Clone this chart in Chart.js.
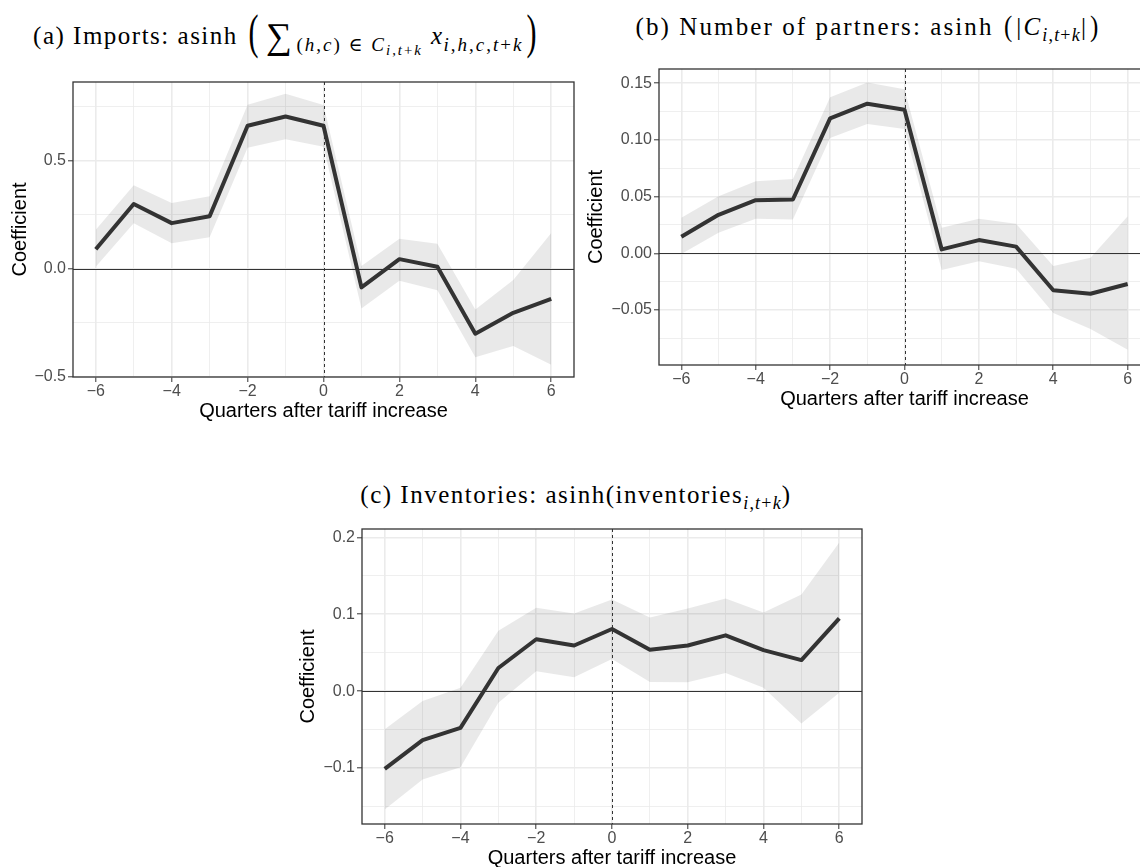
<!DOCTYPE html>
<html>
<head>
<meta charset="utf-8">
<script src="https://cdn.jsdelivr.net/npm/chart.js@4/dist/chart.umd.min.js"></script>
<style>
  html, body { margin: 0; padding: 0; background: #fff; }
  body { width: 1140px; height: 867px; overflow: hidden; position: relative; }
  canvas { position: absolute; }
  .ttl {
    position: absolute; white-space: nowrap; color: #000;
    font-family: "Liberation Serif", "DejaVu Serif", serif;
    font-size: 25px; line-height: 1; letter-spacing: 1.5px; transform: translateX(-50%);
  }
  .ttl i { font-style: italic; }
  .sb  { font-size: 0.72em; position: relative; top: 0.35em; letter-spacing: 1.2px; }
  .sb2 { font-size: 0.78em; position: relative; top: 0.3em; }
  .wide .sb { font-size: 0.76em; letter-spacing: 2px; }
  .sum { font-size: 1.45em; position: relative; top: 0.1em; margin: 0 3px 0 3px; }
  .bigp { display: inline-block; transform: scaleY(1.6); font-size: 1.2em; position: relative; top: -0.06em; margin: 0 3px; }
  .midp { display: inline-block; transform: scaleY(1.15); margin: 0 2px; }
  .mx { margin-left: 8px; }
  .tb { letter-spacing: 2.1px; }
</style>
</head>
<body>

<div class="ttl wide" style="left:287px; top:14px;">(a) Imports: asinh <span class="bigp">(</span><span class="sum">∑</span><span class="sb">(<i>h</i>,<i>c</i>) ∈ <i>C</i><span class="sb2"><i>i</i>,<i>t</i>+<i>k</i></span></span><i class="mx">x</i><span class="sb"><i>i</i>,<i>h</i>,<i>c</i>,<i>t</i>+<i>k</i></span><span class="bigp">)</span></div>
<div class="ttl tb" style="left:869px; top:14px;">(b) Number of partners: asinh <span class="midp">(</span>|<i>C</i><span class="sb"><i>i</i>,<i>t</i>+<i>k</i></span>|<span class="midp">)</span></div>
<div class="ttl" style="left:576px; top:482px;">(c) Inventories: asinh(inventories<span class="sb"><i>i</i>,<i>t</i>+<i>k</i></span>)</div>

<canvas id="imports" width="590" height="365" style="left:0px; top:62px;"></canvas>
<canvas id="partners" width="586" height="366" style="left:574px; top:49px;"></canvas>
<canvas id="inventories" width="583" height="365" style="left:289px; top:509px;"></canvas>

<script>
// Event-study estimates by quarter relative to the tariff increase, with confidence bands
const quarters = [-6, -5, -4, -3, -2, -1, 0, 1, 2, 3, 4, 5, 6];

const importsCoef  = [0.090, 0.300, 0.211, 0.243, 0.663, 0.706, 0.663, -0.087, 0.044, 0.009, -0.302, -0.205, -0.140];
const importsUpper = [0.180, 0.387, 0.305, 0.336, 0.760, 0.812, 0.759, 0.012, 0.138, 0.115, -0.190, -0.053, 0.165];
const importsLower = [0.009, 0.211, 0.118, 0.146, 0.561, 0.600, 0.566, -0.185, -0.056, -0.100, -0.411, -0.359, -0.446];

const partnersCoef  = [0.0147, 0.0340, 0.0469, 0.0475, 0.1190, 0.1320, 0.1266, 0.0035, 0.0117, 0.0059, -0.0325, -0.0357, -0.0270];
const partnersUpper = [0.0313, 0.0504, 0.0636, 0.0656, 0.1377, 0.1506, 0.1447, 0.0226, 0.0305, 0.0261, -0.0111, -0.0038, 0.0328];
const partnersLower = [-0.0005, 0.0182, 0.0305, 0.0299, 0.1017, 0.1140, 0.1096, -0.0146, -0.0070, -0.0135, -0.0527, -0.0668, -0.0850];

const inventoriesCoef  = [-0.101, -0.0636, -0.0477, 0.0301, 0.0675, 0.0593, 0.0808, 0.0537, 0.0593, 0.0726, 0.0533, 0.0404, 0.0945];
const inventoriesUpper = [-0.0494, -0.0129, 0.0043, 0.0786, 0.1083, 0.1010, 0.1190, 0.0958, 0.1074, 0.1203, 0.1023, 0.1255, 0.1934];
const inventoriesLower = [-0.1540, -0.1147, -0.0988, -0.0150, 0.0258, 0.0180, 0.0417, 0.0120, 0.0116, 0.0236, 0.0043, -0.0421, -0.0020];

// Axis breaks and their labels
const xTicks = [-6, -4, -2, 0, 2, 4, 6];
const xTickLabels = ['−6', '−4', '−2', '0', '2', '4', '6'];
const importsYTicks = [-0.5, 0, 0.5];
const importsYLabels = ['−0.5', '0.0', '0.5'];
const partnersYTicks = [-0.05, 0, 0.05, 0.10, 0.15];
const partnersYLabels = ['−0.05', '0.00', '0.05', '0.10', '0.15'];
const inventoriesYTicks = [-0.1, 0, 0.1, 0.2];
const inventoriesYLabels = ['−0.1', '0.0', '0.1', '0.2'];

// Axis limits
const xLimits = [-6.6, 6.6];
const importsLimits = [-0.503, 0.866];
const partnersLimits = [-0.0985, 0.1626];
const inventoriesLimits = [-0.1727, 0.2108];

// Reference lines: no effect, and the quarter of the tariff increase
const referenceCoef = 0;
const referenceQuarter = 0;

const SANS = '"Liberation Sans", Arial, Helvetica, sans-serif';
const TICK_FONT = { family: SANS, size: 16 };
const TITLE_FONT = { family: SANS, size: 20 };

function near(a, b) { return Math.abs(a - b) < 1e-9; }
function isMajor(v, majors) { return majors.some(m => near(m, v)); }

// Major breaks plus minor breaks halfway between them (and half a step past each end)
function withMinor(majors, lo, hi) {
  const step = majors[1] - majors[0];
  const mids = [majors[0] - step / 2];
  for (let i = 0; i < majors.length - 1; i++) mids.push((majors[i] + majors[i + 1]) / 2);
  mids.push(majors[majors.length - 1] + step / 2);
  return majors.concat(mids)
    .filter(v => v >= lo - 1e-9 && v <= hi + 1e-9)
    .sort((a, b) => a - b);
}

function points(values) {
  return quarters.map((q, i) => ({ x: q, y: values[i] }));
}

// Reference lines under the estimate line, and the panel border on top
const panelDecor = {
  id: 'panelDecor',
  beforeDatasetDraw(chart, args) {
    if (args.index !== 0) return;
    const { ctx, chartArea: a, scales: { x, y } } = chart;
    ctx.save();
    ctx.strokeStyle = '#333333';
    ctx.lineWidth = 1;
    const y0 = Math.round(y.getPixelForValue(referenceCoef)) + 0.5;
    ctx.beginPath(); ctx.moveTo(a.left, y0); ctx.lineTo(a.right, y0); ctx.stroke();
    const x0 = Math.round(x.getPixelForValue(referenceQuarter)) + 0.5;
    ctx.setLineDash([3, 3]);
    ctx.beginPath(); ctx.moveTo(x0, a.top); ctx.lineTo(x0, a.bottom); ctx.stroke();
    ctx.restore();
  },
  afterDatasetsDraw(chart) {
    const { ctx, chartArea: a } = chart;
    ctx.save();
    ctx.strokeStyle = '#333333';
    ctx.lineWidth = 1.3;
    ctx.strokeRect(a.left, a.top, a.right - a.left, a.bottom - a.top);
    ctx.restore();
  }
};

function gridFor(majors) {
  return {
    color: '#EBEBEB',
    lineWidth: c => (c.tick && isMajor(c.tick.value, majors)) ? 1.6 : 0.8,
    tickColor: c => (c.tick && isMajor(c.tick.value, majors)) ? '#333333' : 'rgba(0,0,0,0)',
    tickLength: 5,
    tickWidth: 1
  };
}

function makePanel(id, cfg) {
  const ctx = document.getElementById(id);
  return new Chart(ctx, {
    type: 'line',
    data: {
      datasets: [
        { label: 'Coefficient', data: points(cfg.coef), borderColor: '#333333', borderWidth: 4,
          borderJoinStyle: 'round', pointRadius: 0, fill: false, tension: 0, order: 0 },
        { label: 'Lower bound', data: points(cfg.lower), borderColor: 'rgba(0,0,0,0)', borderWidth: 0,
          pointRadius: 0, fill: false, tension: 0, order: 2 },
        { label: 'Upper bound', data: points(cfg.upper), borderColor: 'rgba(0,0,0,0)', borderWidth: 0,
          pointRadius: 0, fill: '-1', backgroundColor: 'rgba(0,0,0,0.085)', tension: 0, order: 1 }
      ]
    },
    options: {
      responsive: false,
      animation: false,
      devicePixelRatio: 1,
      events: [],
      layout: { padding: { top: 20, right: cfg.padRight, left: 0, bottom: 0 } },
      plugins: { legend: { display: false }, tooltip: { enabled: false } },
      scales: {
        x: {
          type: 'linear', min: xLimits[0], max: xLimits[1],
          afterBuildTicks(scale) { scale.ticks = withMinor(xTicks, scale.min, scale.max).map(v => ({ value: v })); },
          afterFit(scale) { scale.height = 50; },
          ticks: {
            autoSkip: false, maxRotation: 0, padding: 0, color: '#4D4D4D', font: TICK_FONT,
            callback(v) { const i = xTicks.findIndex(t => near(t, v)); return i < 0 ? '' : xTickLabels[i]; }
          },
          grid: gridFor(xTicks),
          border: { display: false },
          title: { display: true, text: 'Quarters after tariff increase', color: '#000', font: TITLE_FONT,
                   padding: { top: 0, bottom: 4 } }
        },
        y: {
          type: 'linear', min: cfg.limits[0], max: cfg.limits[1],
          afterBuildTicks(scale) { scale.ticks = withMinor(cfg.yTicks, scale.min, scale.max).map(v => ({ value: v })); },
          afterFit(scale) { scale.width = cfg.yWidth; },
          ticks: {
            autoSkip: false, padding: 2, color: '#4D4D4D', font: TICK_FONT,
            callback(v) { const i = cfg.yTicks.findIndex(t => near(t, v)); return i < 0 ? '' : cfg.yLabels[i]; }
          },
          grid: gridFor(cfg.yTicks),
          border: { display: false },
          title: { display: true, text: 'Coefficient', color: '#000', font: TITLE_FONT,
                   padding: { top: cfg.titlePad, bottom: 0 } }
        }
      }
    },
    plugins: [panelDecor]
  });
}

makePanel('imports', {
  coef: importsCoef, upper: importsUpper, lower: importsLower,
  yTicks: importsYTicks, yLabels: importsYLabels, limits: importsLimits,
  yWidth: 73, padRight: 16, titlePad: 8
});
makePanel('partners', {
  coef: partnersCoef, upper: partnersUpper, lower: partnersLower,
  yTicks: partnersYTicks, yLabels: partnersYLabels, limits: partnersLimits,
  yWidth: 85, padRight: 10, titlePad: 10
});
makePanel('inventories', {
  coef: inventoriesCoef, upper: inventoriesUpper, lower: inventoriesLower,
  yTicks: inventoriesYTicks, yLabels: inventoriesYLabels, limits: inventoriesLimits,
  yWidth: 73, padRight: 10, titlePad: 7.6
});
</script>
</body>
</html>
